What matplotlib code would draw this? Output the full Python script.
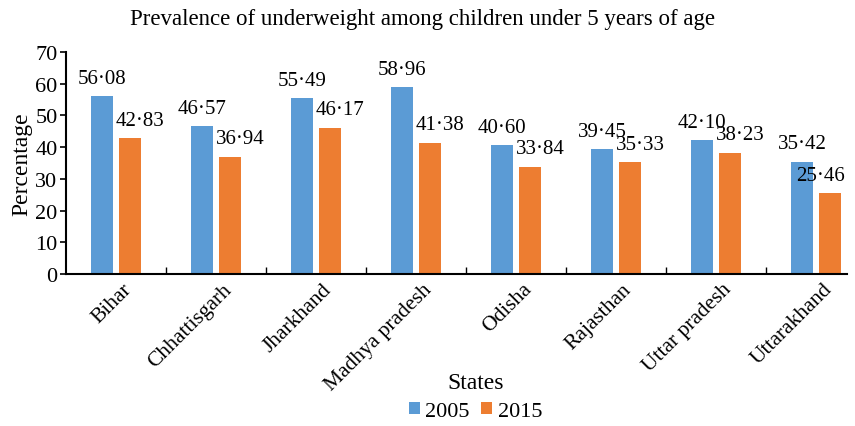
import numpy as np
import matplotlib
matplotlib.use("Agg")
import matplotlib.pyplot as plt

plt.rcParams['font.family'] = ['Liberation Serif', 'DejaVu Serif']

# data
states = ['Bihar', 'Chhattisgarh', 'Jharkhand', 'Madhya pradesh',
          'Odisha', 'Rajasthan', 'Uttar pradesh', 'Uttarakhand']
y2005 = [56.08, 46.57, 55.49, 58.96, 40.60, 39.45, 42.10, 35.42]
y2015 = [42.83, 36.94, 46.17, 41.38, 33.84, 35.33, 38.23, 25.46]

blue = '#5b9bd5'
orange = '#ed7d31'

fig = plt.figure(figsize=(8.55, 4.27), dpi=100)
ax = fig.add_axes([0.077, 0.356, 0.914, 0.52])

x = np.arange(len(states))
w = 0.22
off = 0.14
xmax = 7.31
b1 = ax.bar(x - off, y2005, w, color=blue, label='2005')
b2 = ax.bar(x + off, y2015, w, color=orange, label='2015')

def fmt(v):
    return f"{v:.2f}".replace('.', '\u00b7')

for xi, v in zip(x, y2005):
    ax.annotate(fmt(v), (xi - off, v), xytext=(0, 6),
                textcoords='offset points', ha='center', va='bottom', fontsize=15)
for xi, v in zip(x, y2015):
    lx = min(xi + off + 0.1, xmax - 0.27)  # keep last label inside the figure
    ax.annotate(fmt(v), (lx, v), xytext=(0, 6),
                textcoords='offset points', ha='center', va='bottom', fontsize=15)

ax.set_xlim(-0.5, xmax)
ax.set_ylim(0, 70)
ax.set_yticks(range(0, 71, 10))
ax.tick_params(axis='y', labelsize=16, direction='out', length=4, width=1.2, pad=2)

ax.set_xticks(x + 0.06)
ax.set_xticklabels(states, rotation=45, ha='right', rotation_mode='anchor', fontsize=15.5)
ax.tick_params(axis='x', length=0, pad=4)
ax.set_xticks(np.arange(0.5, 7.0, 1.0), minor=True)
ax.tick_params(axis='x', which='minor', direction='in', length=5, width=1.0)

for s in ['top', 'right']:
    ax.spines[s].set_visible(False)
ax.spines['left'].set_linewidth(1.5)
ax.spines['bottom'].set_linewidth(1.5)

ax.set_ylabel('Percentage', fontsize=17, labelpad=2)
fig.text(0.494, 0.955, 'Prevalence of underweight among children under 5 years of age',
         ha='center', va='center', fontsize=16.5)
fig.text(0.556, 0.09, 'States', ha='center', fontsize=17)

fig.legend(handles=[b1, b2], labels=['2005', '2015'], loc='lower center',
           bbox_to_anchor=(0.556, -0.035), ncol=2, frameon=False, fontsize=16,
           handlelength=0.5, handleheight=0.5, handletextpad=0.25, columnspacing=0.5)

fig.savefig('out.png', dpi=100)
